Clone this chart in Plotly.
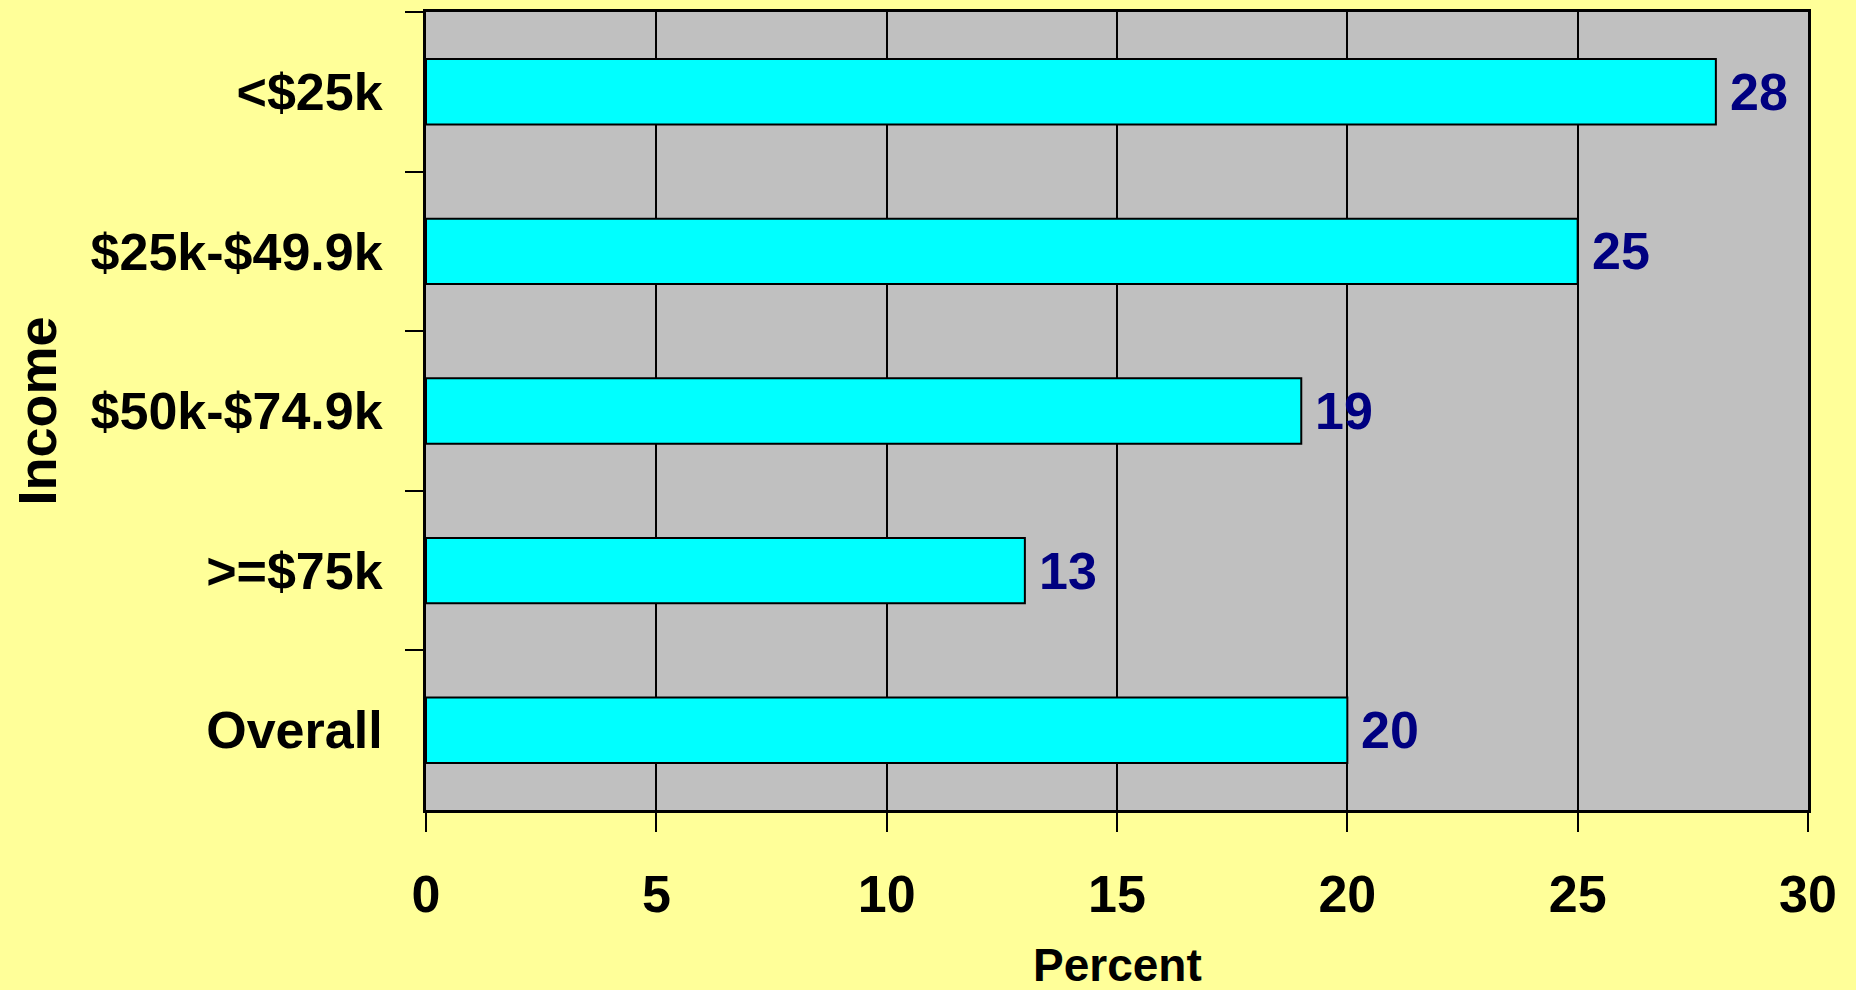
import plotly.graph_objects as go

# Share of respondents by income group (percent)
income_groups = ["<$25k", "$25k-$49.9k", "$50k-$74.9k", ">=$75k", "Overall"]
percent = [28, 25, 19, 13, 20]
x_ticks = [0, 5, 10, 15, 20, 25, 30]

FONT = "Liberation Sans, Arial, Helvetica, sans-serif"

fig = go.Figure()
fig.add_trace(go.Bar(
    x=percent,
    y=income_groups,
    orientation="h",
    marker=dict(color="#00FFFF", line=dict(color="#000000", width=2)),
    hoverinfo="x+y",
))

# value labels at the end of each bar
for cat, val in zip(income_groups, percent):
    fig.add_annotation(
        x=val, y=cat, xref="x", yref="y",
        text=str(val), showarrow=False,
        xanchor="left", yanchor="middle", xshift=12,
        font=dict(family=FONT, size=52, color="#000080", weight="bold"),
    )

# x-axis title, placed near the bottom edge of the page
fig.add_annotation(
    x=0.5, y=-0.194, xref="paper", yref="paper",
    text="Percent", showarrow=False,
    xanchor="center", yanchor="middle",
    font=dict(family=FONT, size=46, color="#000000", weight="bold"),
)

fig.update_layout(
    width=1856, height=990,
    margin=dict(l=426, r=48, t=12, b=180),
    paper_bgcolor="#FFFF99",
    plot_bgcolor="#C0C0C0",
    bargap=0.59,
    showlegend=False,
    font=dict(family=FONT, color="#000000"),
)

fig.update_xaxes(
    range=[0, 30],
    tickvals=x_ticks,
    ticks="outside", ticklen=19, tickwidth=2, tickcolor="#000000",
    ticklabelstandoff=18,
    tickfont=dict(family=FONT, size=52, color="#000000", weight="bold"),
    showgrid=True, gridcolor="#000000", gridwidth=2,
    zeroline=False,
    showline=True, linecolor="#000000", linewidth=3, mirror=True,
    automargin=False,
)

fig.update_yaxes(
    categoryorder="array", categoryarray=income_groups,
    autorange="reversed",
    tickson="boundaries",
    ticks="outside", ticklen=18, tickwidth=2, tickcolor="#000000",
    ticklabelstandoff=30,
    tickfont=dict(family=FONT, size=52, color="#000000", weight="bold"),
    showgrid=False,
    showline=True, linecolor="#000000", linewidth=3, mirror=True,
    automargin=False,
    title=dict(text="Income", font=dict(family=FONT, size=54, weight="bold"), standoff=17),
)

fig.write_html("out.html")
